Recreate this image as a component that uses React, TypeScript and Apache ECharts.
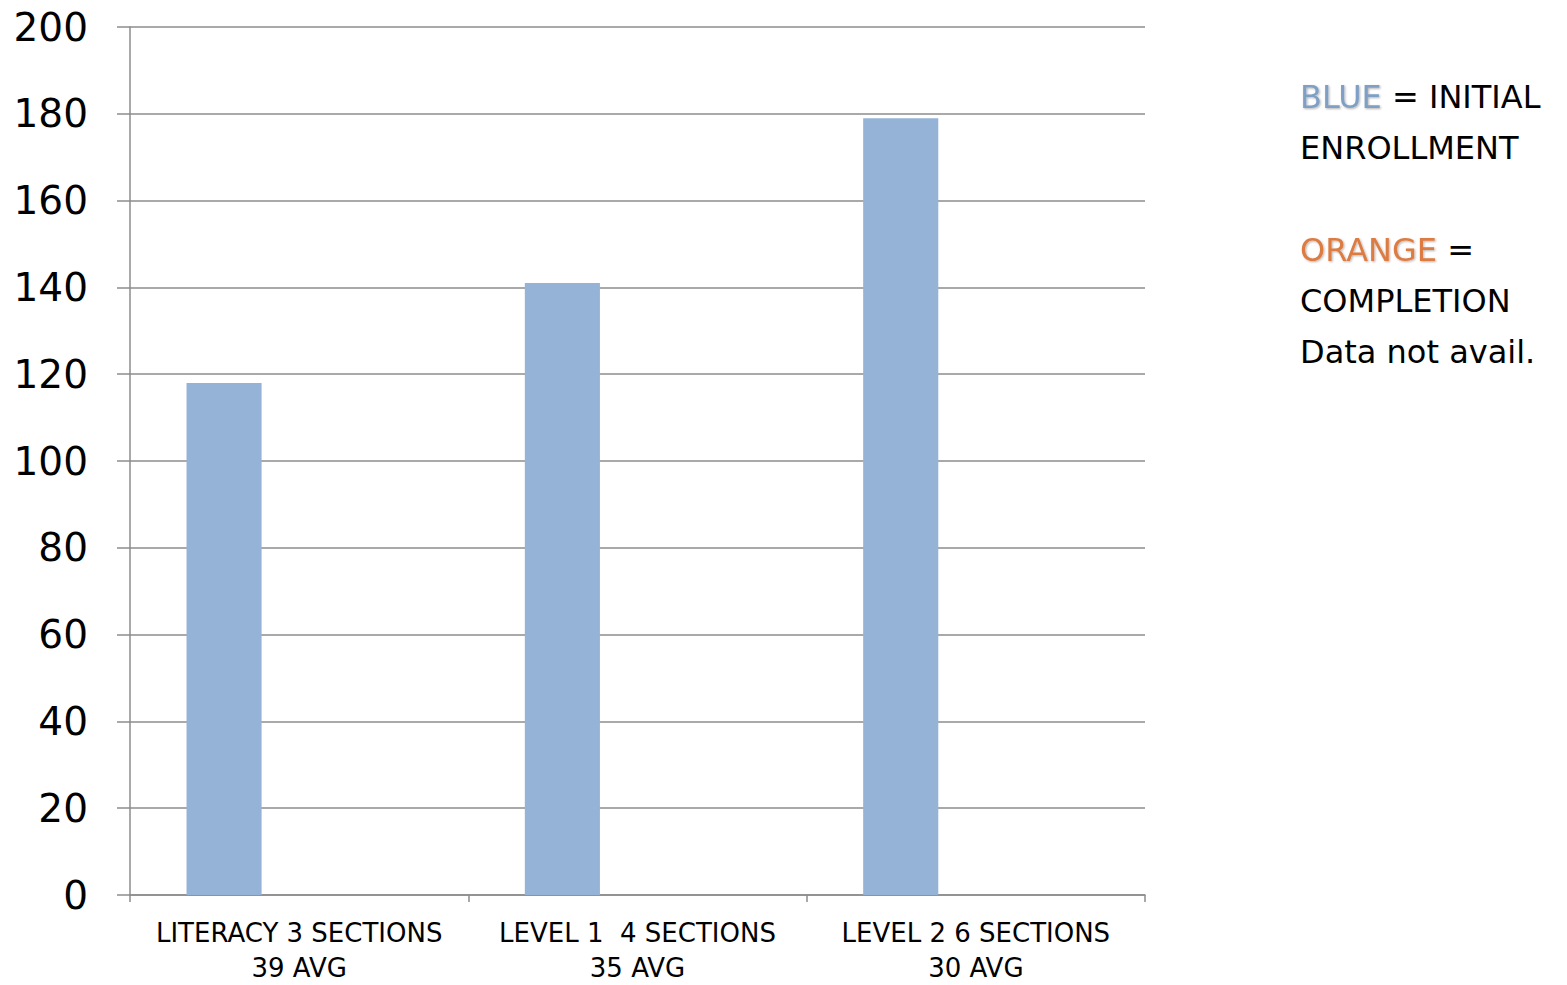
import React, { useEffect, useRef } from "react";
import * as echarts from "echarts";

const categories = ["LITERACY 3 SECTIONS\n39 AVG", "LEVEL 1  4 SECTIONS\n35 AVG", "LEVEL 2 6 SECTIONS\n30 AVG"];
const enrollment = [118, 141, 179];
const completion: (number | null)[] = [null, null, null];
const extra: (number | null)[] = [null, null, null];
const yMin = 0;
const yMax = 200;
const yStep = 20;

const FONT = "'DejaVu Sans', 'Noto Sans', sans-serif";

export default function App() {
  const ref = useRef<HTMLDivElement>(null);
  useEffect(() => {
    if (!ref.current) return;
    const chart = echarts.init(ref.current, undefined, { renderer: "svg" });
    chart.setOption({
      animation: false,
      backgroundColor: "#ffffff",
      grid: { left: 130, right: 422, top: 27, bottom: 84, containLabel: false },
      xAxis: {
        type: "category",
        data: categories,
        axisLine: { lineStyle: { color: "#8c8c8c", width: 1.5 } },
        axisTick: { show: true, length: 7, alignWithLabel: false, lineStyle: { color: "#8c8c8c", width: 1.5 } },
        axisLabel: { interval: 0, hideOverlap: false, color: "#000", fontFamily: FONT, fontSize: 26, lineHeight: 35, margin: 20 },
      },
      yAxis: {
        type: "value",
        min: yMin,
        max: yMax,
        interval: yStep,
        axisLine: { show: true, lineStyle: { color: "#8c8c8c", width: 1.5 } },
        axisTick: { show: true, inside: false, length: 13, lineStyle: { color: "#8c8c8c", width: 1.5 } },
        splitLine: { show: true, lineStyle: { color: "#8c8c8c", width: 1.5 } },
        axisLabel: { color: "#000", fontFamily: FONT, fontSize: 39, margin: 42 },
      },
      series: [
        {
          name: "Initial Enrollment",
          type: "bar",
          data: enrollment,
          itemStyle: { color: "#95b3d7" },
          barGap: "0%",
          barCategoryGap: "33.4%",
        },
        { name: "Completion", type: "bar", data: completion, itemStyle: { color: "#e4844a" } },
        { name: "Other", type: "bar", data: extra, itemStyle: { color: "#a5a5a5" } },
      ],
      graphic: [
        {
          type: "text",
          left: 1300,
          top: 71,
          style: {
            text: "{b|BLUE} = INITIAL\nENROLLMENT\n\n{o|ORANGE} =\nCOMPLETION\nData not avail.",
            fontFamily: FONT,
            fontSize: 32,
            lineHeight: 51,
            fill: "#000",
            rich: {
              b: { fill: "#7fa0c4", fontFamily: FONT, fontSize: 32, lineHeight: 51, textShadowColor: "rgba(0,0,0,0.3)", textShadowBlur: 2, textShadowOffsetX: 1, textShadowOffsetY: 1 },
              o: { fill: "#dd7c43", fontFamily: FONT, fontSize: 32, lineHeight: 51, textShadowColor: "rgba(0,0,0,0.3)", textShadowBlur: 2, textShadowOffsetX: 1, textShadowOffsetY: 1 },
            },
          },
        },
      ],
    });
    return () => chart.dispose();
  }, []);
  return <div ref={ref} style={{ position: "fixed", left: 0, top: 0, width: 1567, height: 985 }} />;
}
